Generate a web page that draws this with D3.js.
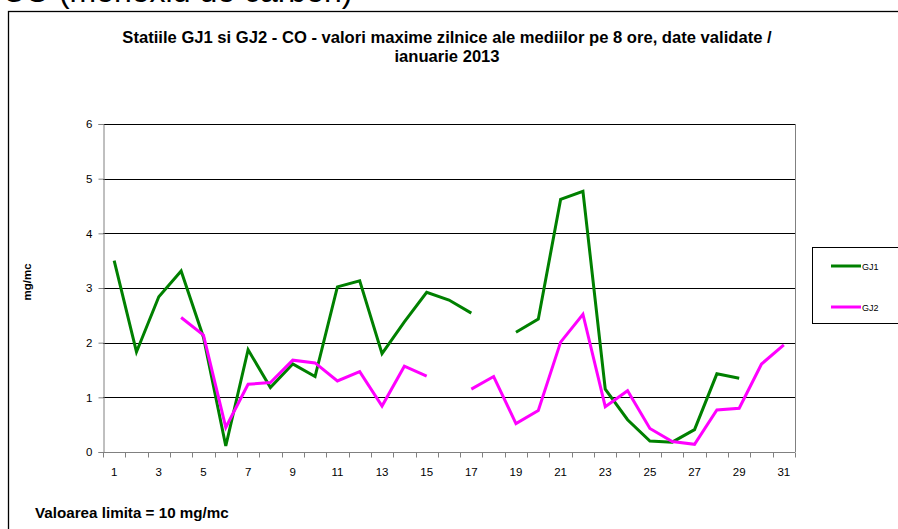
<!DOCTYPE html>
<html><head><meta charset="utf-8">
<script src="https://cdn.jsdelivr.net/npm/d3@7"></script>
<style>body{margin:0;background:#fff;}svg{display:block;font-family:"Liberation Sans",Arial,sans-serif;}</style>
</head><body>
<svg id="c" width="898" height="529"></svg>
<script>
const days = d3.range(1, 32);
const gj1 = [3.5,1.83,2.84,3.31,2.1,0.11,1.87,1.18,1.61,1.38,3.02,3.13,1.8,2.38,2.92,2.78,2.54,null,2.19,2.43,4.62,4.77,1.15,0.59,0.2,0.18,0.41,1.43,1.35,null,null];
const gj2 = [null,null,null,2.46,2.14,0.45,1.24,1.27,1.68,1.63,1.3,1.47,0.84,1.57,1.39,null,1.15,1.38,0.52,0.76,2.01,2.52,0.83,1.12,0.43,0.19,0.14,0.77,0.8,1.61,1.96];
const yTicks = [0,1,2,3,4,5,6];
const xLabels = days.filter(d => d % 2 === 1);
const seriesNames = ["GJ1","GJ2"];
const colors = ["#008000","#FF00FF"];
const title1 = "Statiile GJ1 si GJ2 - CO - valori maxime zilnice ale mediilor pe 8 ore, date validate /";
const title2 = "ianuarie 2013";
const yTitle = "mg/mc";
const note = "Valoarea limita = 10 mg/mc";
const pageHeading = "CO (monoxid de carbon)";

const svg = d3.select("#c");
// page heading partly cut off at the top edge
svg.append("text").attr("x",2).attr("y",1.5).attr("font-size",32).attr("fill","#000").text(pageHeading);
// chart border
svg.append("rect").attr("x",8.5).attr("y",11.5).attr("width",900).attr("height",530).attr("fill","#fff").attr("stroke","#000").attr("stroke-width",1.3);

const L=103, R=795, T=124, B=452;
const x = d3.scaleBand().domain(days).range([L,R]);
const y = d3.scaleLinear().domain([0,6]).range([B,T]);

// gridlines
svg.append("g").selectAll("line").data(yTicks.filter(v=>v>0)).join("line")
  .attr("x1",L).attr("x2",R).attr("y1",d=>Math.round(y(d))+0.5).attr("y2",d=>Math.round(y(d))+0.5)
  .attr("stroke","#000").attr("stroke-width",1);
// right border
svg.append("line").attr("x1",R+0.5).attr("x2",R+0.5).attr("y1",T).attr("y2",B).attr("stroke","#808080");

// y axis
const ya = svg.append("g").attr("transform",`translate(${L+0.5},0)`)
  .call(d3.axisLeft(y).tickValues(yTicks).tickSize(5).tickPadding(6).tickFormat(d3.format("d")));
ya.select(".domain").attr("stroke","#808080");
ya.selectAll(".tick line").attr("stroke","#808080");
ya.selectAll("text").attr("font-size",11.5).attr("font-family","Liberation Sans, Arial, sans-serif").attr("fill","#000");

// x axis
const xa = svg.append("g").attr("transform",`translate(0,${B+0.5})`);
xa.append("line").attr("x1",L).attr("x2",R).attr("stroke","#808080");
xa.selectAll("line.t").data(d3.range(0,32)).join("line").attr("class","t")
  .attr("x1",i=>Math.round(L+i*x.step())+0.5).attr("x2",i=>Math.round(L+i*x.step())+0.5)
  .attr("y1",0).attr("y2",5).attr("stroke","#808080");
xa.selectAll("text").data(xLabels).join("text")
  .attr("x",d=>x(d)+x.bandwidth()/2).attr("y",23).attr("text-anchor","middle")
  .attr("font-size",11.5).attr("fill","#000").text(d=>d);

// lines
const line = d3.line().defined(d=>d.v!==null).x(d=>x(d.d)+x.bandwidth()/2).y(d=>y(d.v));
[gj1,gj2].forEach((s,i)=>{
  svg.append("path").datum(days.map((d,j)=>({d,v:s[j]})))
    .attr("d",line).attr("fill","none").attr("stroke",colors[i]).attr("stroke-width",3).attr("stroke-linejoin","miter");
});

// titles
svg.append("text").attr("x",447).attr("y",43).attr("text-anchor","middle").attr("font-size",16.6).attr("font-weight","bold").text(title1);
svg.append("text").attr("x",447).attr("y",62).attr("text-anchor","middle").attr("font-size",16.6).attr("font-weight","bold").text(title2);
svg.append("text").attr("transform","translate(31,282) rotate(-90)").attr("text-anchor","middle").attr("font-size",11.5).attr("font-weight","bold").text(yTitle);
svg.append("text").attr("x",35).attr("y",518).attr("font-size",15.2).attr("font-weight","bold").text(note);

// legend
svg.append("rect").attr("x",812.5).attr("y",247.5).attr("width",100).attr("height",76).attr("fill","#fff").attr("stroke","#000").attr("stroke-width",1);
seriesNames.forEach((n,i)=>{
  const ly = 266 + i*41;
  svg.append("line").attr("x1",831).attr("x2",861).attr("y1",ly).attr("y2",ly).attr("stroke",colors[i]).attr("stroke-width",3);
  svg.append("text").attr("x",862).attr("y",ly+3.5).attr("font-size",9).text(n);
});
</script>
</body></html>
